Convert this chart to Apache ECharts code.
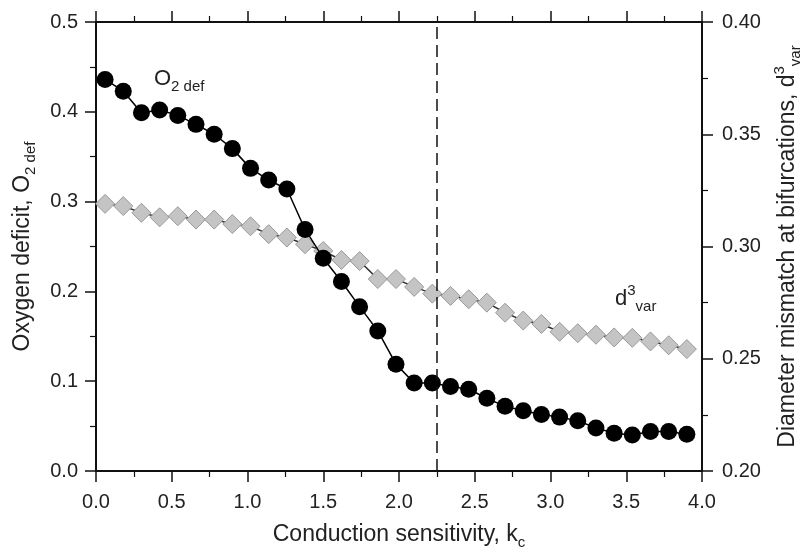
<!DOCTYPE html>
<html>
<head>
<meta charset="utf-8">
<script src="https://cdn.jsdelivr.net/npm/echarts@6/dist/echarts.min.js"></script>
<style>
  * { margin: 0; padding: 0; }
  html, body { width: 811px; height: 555px; background: #fff; }
  #chart { width: 811px; height: 555px; }
</style>
</head>
<body>
<div id="chart"></div>
<script>
// conduction sensitivity k_c (x)
var kc = [0.06, 0.18, 0.30, 0.42, 0.54, 0.66, 0.78, 0.90, 1.02, 1.14, 1.26,
  1.38, 1.50, 1.62, 1.74, 1.86, 1.98, 2.10, 2.22, 2.34, 2.46, 2.58,
  2.70, 2.82, 2.94, 3.06, 3.18, 3.30, 3.42, 3.54, 3.66, 3.78, 3.90];
// oxygen deficit, left axis
var o2def = [0.436, 0.423, 0.399, 0.402, 0.396, 0.386, 0.375, 0.359, 0.337, 0.324, 0.314,
  0.269, 0.237, 0.211, 0.183, 0.156, 0.119, 0.098, 0.098, 0.094, 0.091, 0.081,
  0.072, 0.067, 0.063, 0.060, 0.056, 0.048, 0.042, 0.040, 0.044, 0.044, 0.041];
// diameter mismatch d^3_var, right axis
var d3var = [0.319, 0.318, 0.315, 0.313, 0.3135, 0.312, 0.312, 0.310, 0.309, 0.3055, 0.304,
  0.301, 0.298, 0.294, 0.2935, 0.2855, 0.2855, 0.282, 0.279, 0.278, 0.2765, 0.275,
  0.2705, 0.267, 0.2655, 0.262, 0.2614, 0.2607, 0.2595, 0.2593, 0.2577, 0.256, 0.2543];
var dashX = 2.25;

var font = 'Liberation Sans, Arial, sans-serif';

function pairs(xs, ys) {
  return xs.map(function (x, i) { return [x, ys[i]]; });
}

var axisCommon = {
  axisLine: { show: true, onZero: false, lineStyle: { color: '#111', width: 2 } },
  axisTick: { show: true, inside: false, length: 11, lineStyle: { color: '#111', width: 1.5 } },
  minorTick: { show: true, splitNumber: 2, length: 6, lineStyle: { color: '#111', width: 1.2 } },
  splitLine: { show: false },
  axisLabel: { color: '#222', fontSize: 20, fontFamily: font }
};

var myChart = echarts.init(document.getElementById('chart'));
var option = {
  backgroundColor: '#fff',
  animation: false,
  grid: { left: 96, right: 104, top: 22, bottom: 75, containLabel: false },
  xAxis: [
    Object.assign({}, axisCommon, {
      type: 'value', position: 'bottom', min: 0, max: 4, interval: 0.5,
      name: 'Conduction sensitivity, k{sub|c}',
      nameLocation: 'middle', nameGap: 48,
      nameTextStyle: {
        color: '#222', fontSize: 23, fontFamily: font,
        rich: { sub: { fontSize: 15, fontFamily: font, color: '#222', padding: [16, 0, 0, 0] } }
      },
      axisLabel: { color: '#222', fontSize: 20, fontFamily: font, margin: 21,
        formatter: function (v) { return v.toFixed(1); } }
    }),
    Object.assign({}, axisCommon, {
      type: 'value', position: 'top', min: 0, max: 4, interval: 0.5,
      axisLabel: { show: false }
    })
  ],
  yAxis: [
    Object.assign({}, axisCommon, {
      type: 'value', position: 'left', min: 0, max: 0.5, interval: 0.1,
      name: 'Oxygen deficit, O{sub|2 def}',
      nameLocation: 'middle', nameRotate: 90, nameGap: 58,
      nameTextStyle: {
        color: '#222', fontSize: 23, fontFamily: font,
        rich: { sub: { fontSize: 15, fontFamily: font, color: '#222', padding: [16, 0, 0, 0] } }
      },
      axisLabel: { color: '#222', fontSize: 20, fontFamily: font, margin: 18,
        formatter: function (v) { return v.toFixed(1); } }
    }),
    Object.assign({}, axisCommon, {
      type: 'value', position: 'right', min: 0.2, max: 0.4, interval: 0.05,
      name: 'Diameter mismatch at bifurcations, d{sup|3}{sub|var}',
      nameLocation: 'middle', nameRotate: 90, nameGap: 70,
      nameTextStyle: {
        color: '#222', fontSize: 23, fontFamily: font,
        rich: {
          sup: { fontSize: 15, fontFamily: font, color: '#222', padding: [0, 0, 16, 0] },
          sub: { fontSize: 15, fontFamily: font, color: '#222', padding: [16, 0, 0, 0] }
        }
      },
      axisLabel: { color: '#222', fontSize: 20, fontFamily: font, margin: 20,
        formatter: function (v) { return v.toFixed(2); } }
    })
  ],
  series: [
    {
      name: 'd3var', type: 'line', xAxisIndex: 0, yAxisIndex: 1,
      data: pairs(kc, d3var),
      symbol: 'diamond', symbolSize: 19,
      lineStyle: { color: '#333', width: 1.5 },
      itemStyle: { color: '#c4c4c4', borderColor: '#999', borderWidth: 1 },
      z: 2,
      markLine: {
        silent: true, symbol: ['none', 'none'], label: { show: false },
        lineStyle: { color: '#111', type: [12, 6], width: 1.5 },
        data: [{ xAxis: dashX }]
      }
    },
    {
      name: 'O2def', type: 'line', xAxisIndex: 0, yAxisIndex: 0,
      data: pairs(kc, o2def),
      symbol: 'circle', symbolSize: 17,
      lineStyle: { color: '#000', width: 1.5 },
      itemStyle: { color: '#000' },
      z: 3
    }
  ],
  graphic: [
    {
      type: 'text', left: 154, top: 68,
      style: {
        text: 'O{sub|2 def}', fill: '#222', fontSize: 22, fontFamily: font,
        rich: { sub: { fontSize: 15, fontFamily: font, fill: '#222', padding: [16, 0, 0, 0] } }
      }
    },
    {
      type: 'text', left: 615, top: 283,
      style: {
        text: 'd{sup|3}{sub|var}', fill: '#222', fontSize: 22, fontFamily: font,
        rich: {
          sup: { fontSize: 15, fontFamily: font, fill: '#222', padding: [0, 0, 16, 0] },
          sub: { fontSize: 15, fontFamily: font, fill: '#222', padding: [16, 0, 0, 0] }
        }
      }
    }
  ]
};
myChart.setOption(option);
window.onresize = myChart.resize;
</script>
</body>
</html>
